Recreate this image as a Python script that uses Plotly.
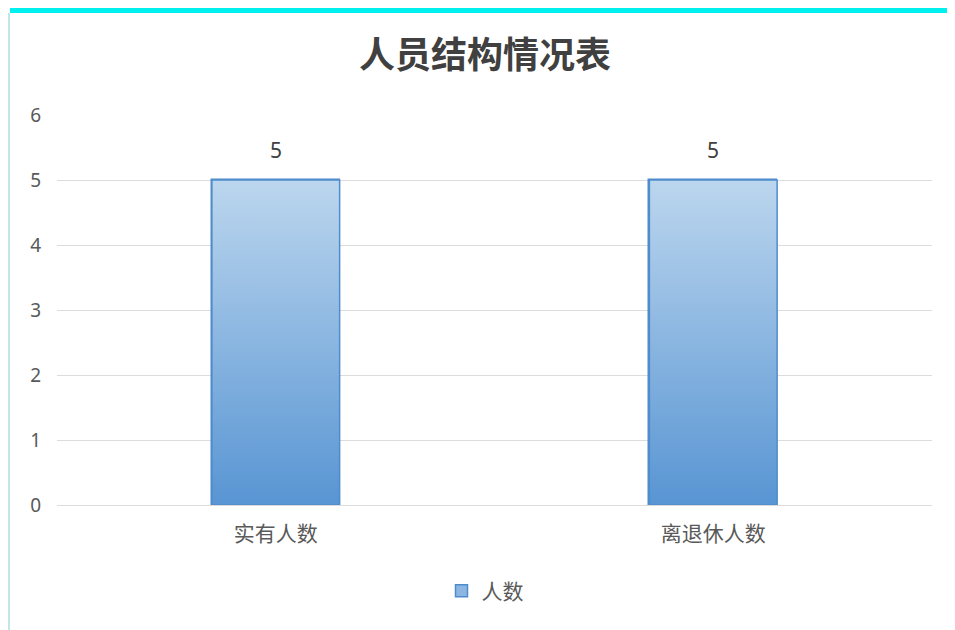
import plotly.graph_objects as go

categories = ["实有人数", "离退休人数"]
values = [5, 5]
series_name = "人数"
y_ticks = [0, 1, 2, 3, 4, 5, 6]

# page body adds an 8px offset, so the figure is sized to fit the window
W, H = 947, 622
ML, MR, MT, MB = 49, 23, 107, 125
PW, PH = W - ML - MR, H - MT - MB
bar_width = 0.292
xs = list(range(len(categories)))

fig = go.Figure()

fig.add_trace(go.Bar(
    x=xs, y=values, width=bar_width, name=series_name,
    marker=dict(color="#8DB6E2", line=dict(color="#4F8CCB", width=1.5)),
    hoverinfo="x+y",
))

# gradient overlay on each bar (derived from data values)
for x, v in zip(xs, values):
    x0, x1 = x - bar_width / 2, x + bar_width / 2
    fig.add_trace(go.Scatter(
        x=[x0, x1, x1, x0, x0], y=[0, 0, v, v, 0],
        mode="lines", fill="toself",
        fillgradient=dict(type="vertical",
                          colorscale=[[0, "#5895D3"], [1, "#BCD6EE"]]),
        line=dict(color="#4F8CCB", width=1.5),
        showlegend=False, hoverinfo="skip",
    ))

# data labels
for x, v in zip(xs, values):
    fig.add_annotation(x=x, y=v, text=str(v), showarrow=False, yshift=30,
                       font=dict(size=21, color="#404040",
                                 family="Noto Sans, Noto Sans CJK SC"))

fig.update_layout(
    width=W, height=H,
    paper_bgcolor="white", plot_bgcolor="white",
    margin=dict(l=ML, r=MR, t=MT, b=MB),
    title=dict(text="<b>人员结构情况表</b>", x=477 / W, xanchor="center",
               y=1 - 47 / H, yanchor="middle",
               font=dict(size=36, color="#404040", family="Noto Sans CJK SC")),
    font=dict(family="Noto Sans, Noto Sans CJK SC", color="#595959"),
    showlegend=True,
    legend=dict(orientation="h", x=(477 - ML) / PW, xanchor="center",
                y=-(583 - 497) / PH, yanchor="middle",
                font=dict(size=21, color="#595959", family="Noto Sans CJK SC")),
    bargap=0,
)
fig.update_xaxes(
    range=[-0.5, len(categories) - 0.5], tickvals=xs, ticktext=categories,
    showgrid=False, zeroline=False, showline=False, ticks="",
    tickfont=dict(size=21, color="#595959", family="Noto Sans CJK SC"),
    ticklabelstandoff=14,
)
fig.update_yaxes(
    range=[0, 6], tickvals=y_ticks, showgrid=True, gridcolor="#DCDCDC",
    gridwidth=1.3, zeroline=True, zerolinecolor="#DCDCDC", zerolinewidth=1.3,
    tickfont=dict(size=19, color="#595959", family="Noto Sans"),
    ticks="", ticklabelstandoff=15,
)

# frame decorations: cyan top strip and light left border
fig.add_shape(type="rect", xref="paper", yref="paper",
              x0=(2 - ML) / PW, x1=(W - ML) / PW + 0.01,
              y0=1 + (MT - 5) / PH, y1=1 + MT / PH + 0.01,
              fillcolor="#00F0F0", line=dict(width=0), layer="above")
fig.add_shape(type="line", xref="paper", yref="paper",
              x0=(1 - ML) / PW, x1=(1 - ML) / PW,
              y0=-MB / PH - 0.01, y1=1 + (MT - 5) / PH,
              line=dict(color="#BFE6EA", width=2))

fig.write_html("out.html")
